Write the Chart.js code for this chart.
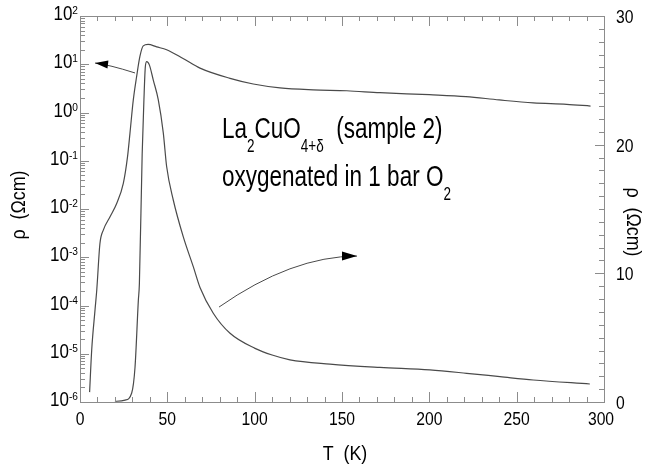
<!DOCTYPE html>
<html>
<head>
<meta charset="utf-8">
<script src="https://cdn.jsdelivr.net/npm/chart.js@4/dist/chart.umd.min.js"></script>
<style>
  html, body { margin: 0; padding: 0; background: #fff; }
  #chart { display: block; }
</style>
</head>
<body>
<canvas id="chart" width="647" height="466"></canvas>
<script>
// --- DATA ---
// curve belonging to the left (log) axis
const logTemps = [5.5, 6.7, 8.6, 9.6, 11.4, 13.4, 17.2, 21, 24.8, 27.2, 28.6, 30.5, 32.4, 34.3, 36.2, 39,
                  43.9, 49.6, 59, 68.7, 85.9, 99.2, 114.5, 133.5, 152.7, 171.7, 200, 221, 240, 259.5, 278.6, 292.3];
const logRho = [1.6e-6, 1.2e-5, 8.1e-5, 2.1e-4, 1.9e-3, 3.7e-3, 6.9e-3, 1.3e-2, 3.4e-2, 0.12, 0.37, 1.8, 5.5, 14.5, 24, 25.7,
                22.9, 20, 13.2, 8.3, 5.1, 3.9, 3.24, 2.95, 2.82, 2.57, 2.34, 2.14, 1.82, 1.58, 1.48, 1.36];

// curve belonging to the right (linear) axis
const linTemps = [20, 25.8, 29.6, 31.5, 33.4, 34.0, 35.6, 36.6, 37.4, 38.2, 39.7, 42, 44.8, 47.7, 49.6,
                  53.4, 59.1, 64.9, 68.7, 76.3, 85.9, 100.2, 110, 120.2, 143.1, 171.7, 200.3, 221.4, 240.4, 259.5, 291.9];
const linRho = [0.05, 0.15, 0.7, 2.7, 7.9, 9.2, 19.3, 23.5, 26.05, 26.45, 26.2, 25.0, 23.5, 20.9, 18.3,
                15.7, 12.85, 10.5, 8.9, 6.9, 5.34, 4.17, 3.65, 3.28, 2.95, 2.69, 2.49, 2.23, 1.97, 1.71, 1.40];

// tick labels
const xTickLabels = [0, 50, 100, 150, 200, 250, 300];
const logTickExponents = [-6, -5, -4, -3, -2, -1, 0, 1, 2];
const linTickLabels = [0, 10, 20, 30];

// --- STYLE ---
const AXIS_COLOR = '#8c8c8c';
const CURVE_COLOR = '#4a4a4a';
const FONT = '"Liberation Sans", Arial, sans-serif';

// --- HELPERS ---
// draws a list of [text, kind] runs, kind = 'n' | 'sub' | 'sup', horizontally squeezed
function richText(ctx, runs, x, y, size, squeeze, align) {
    const small = size * 0.6;
    const fontOf = kind => (kind === 'n' ? size : small) + 'px ' + FONT;
    let total = 0;
    runs.forEach(([txt, kind]) => {
        ctx.font = fontOf(kind);
        total += ctx.measureText(txt).width;
    });
    total *= squeeze;
    let cx = x;
    if (align === 'center') cx = x - total / 2;
    else if (align === 'right') cx = x - total;
    runs.forEach(([txt, kind]) => {
        ctx.save();
        ctx.font = fontOf(kind);
        const dy = kind === 'sub' ? size * 0.47 : kind === 'sup' ? -size * 0.3 : 0;
        ctx.translate(cx, y + dy);
        ctx.scale(squeeze, 1);
        ctx.textAlign = 'left';
        ctx.textBaseline = 'alphabetic';
        ctx.fillText(txt, 0, 0);
        ctx.restore();
        ctx.font = fontOf(kind);
        cx += ctx.measureText(txt).width * squeeze;
    });
}

function curvedArrow(ctx, p0, c, p1, headLen, headHalf) {
    ctx.beginPath();
    ctx.moveTo(p0.x, p0.y);
    ctx.quadraticCurveTo(c.x, c.y, p1.x, p1.y);
    ctx.stroke();
    const ang = Math.atan2(p1.y - c.y, p1.x - c.x);
    ctx.beginPath();
    ctx.moveTo(p1.x, p1.y);
    ctx.lineTo(p1.x - headLen * Math.cos(ang) + headHalf * Math.sin(ang), p1.y - headLen * Math.sin(ang) - headHalf * Math.cos(ang));
    ctx.lineTo(p1.x - headLen * Math.cos(ang) - headHalf * Math.sin(ang), p1.y - headLen * Math.sin(ang) + headHalf * Math.cos(ang));
    ctx.closePath();
    ctx.fill();
}

// --- FRAME, TICKS, LABELS, ANNOTATIONS ---
const decorPlugin = {
    id: 'decor',
    afterDraw(chart) {
        const ctx = chart.ctx;
        const a = chart.chartArea;
        const xs = chart.scales.x, yl = chart.scales.yLog, yr = chart.scales.yLin;

        ctx.save();
        ctx.strokeStyle = AXIS_COLOR;
        ctx.lineWidth = 1;
        ctx.strokeRect(a.left + 0.5, a.top + 0.5, a.right - a.left, a.bottom - a.top);

        ctx.beginPath();
        // x ticks, bottom and top, pointing inward
        for (let t = 0; t <= 300; t += 10) {
            const px = Math.round(xs.getPixelForValue(t)) + 0.5;
            const len = t % 50 === 0 ? 10 : 5;
            ctx.moveTo(px, a.bottom); ctx.lineTo(px, a.bottom - len);
            ctx.moveTo(px, a.top); ctx.lineTo(px, a.top + len);
        }
        // log ticks, left side
        logTickExponents.forEach(e => {
            const py = Math.round(yl.getPixelForValue(Math.pow(10, e))) + 0.5;
            ctx.moveTo(a.left, py); ctx.lineTo(a.left + 9, py);
            if (e < 2) {
                for (let m = 2; m <= 9; m++) {
                    const my = Math.round(yl.getPixelForValue(m * Math.pow(10, e))) + 0.5;
                    ctx.moveTo(a.left, my); ctx.lineTo(a.left + 5, my);
                }
            }
        });
        // linear ticks, right side
        for (let v = 0; v <= 30; v += 1) {
            const py = Math.round(yr.getPixelForValue(v)) + 0.5;
            const len = v % 10 === 0 ? 9 : 5;
            ctx.moveTo(a.right, py); ctx.lineTo(a.right - len, py);
        }
        ctx.stroke();

        // tick labels
        ctx.fillStyle = '#000';
        xTickLabels.forEach(t => {
            richText(ctx, [[String(t), 'n']], xs.getPixelForValue(t) - (t === 300 ? 3 : 0), a.bottom + 23, 18.5, 0.85, 'center');
        });
        logTickExponents.forEach(e => {
            richText(ctx, [['10', 'n'], [String(e), 'sup']], a.left - 2, yl.getPixelForValue(Math.pow(10, e)) + 4, 19.5, 0.87, 'right');
        });
        linTickLabels.forEach(v => {
            richText(ctx, [[String(v), 'n']], a.right + 12, yr.getPixelForValue(v) + 7, 18.5, 0.85, 'left');
        });

        // axis titles
        richText(ctx, [['T  (K)', 'n']], 345, 460, 21, 0.85, 'center');
        ctx.save();
        ctx.translate(25, 205);
        ctx.rotate(-Math.PI / 2);
        richText(ctx, [['\u03c1  (\u03a9cm)', 'n']], 0, 0, 21, 0.85, 'center');
        ctx.restore();
        ctx.save();
        ctx.translate(627, 222);
        ctx.rotate(Math.PI / 2);
        richText(ctx, [['\u03c1  (\u03a9cm)', 'n']], 0, 0, 21, 0.85, 'center');
        ctx.restore();

        // sample annotation
        richText(ctx, [['La', 'n'], ['2', 'sub'], ['CuO', 'n'], ['4+\u03b4', 'sub'], ['  (sample 2)', 'n']],
                 222, 138, 30, 0.75, 'left');
        richText(ctx, [['oxygenated in 1 bar O', 'n'], ['2', 'sub']], 222, 186, 30, 0.75, 'left');

        // arrows pointing each curve at its axis
        ctx.strokeStyle = CURVE_COLOR;
        ctx.fillStyle = '#000';
        ctx.lineWidth = 1;
        const P = (t, v, s) => ({ x: xs.getPixelForValue(t), y: s.getPixelForValue(v) });
        curvedArrow(ctx, P(31.5, 6.6, yl), P(16.6, 9.8, yl), P(8.6, 10.6, yl), 13, 4);
        curvedArrow(ctx, P(79.6, 7.38, yr), P(121.3, 11.34, yr), P(158.6, 11.34, yr), 15, 4.5);
        ctx.restore();
    }
};

// --- CHART ---
const toPoints = (xsArr, ysArr) => xsArr.map((x, i) => ({ x: x, y: ysArr[i] }));

new Chart(document.getElementById('chart'), {
    type: 'line',
    data: {
        datasets: [
            {
                label: 'rho (log)',
                data: toPoints(logTemps, logRho),
                yAxisID: 'yLog',
                borderColor: CURVE_COLOR,
                borderWidth: 1.2,
                pointRadius: 0,
                cubicInterpolationMode: 'monotone',
                fill: false
            },
            {
                label: 'rho (linear)',
                data: toPoints(linTemps, linRho),
                yAxisID: 'yLin',
                borderColor: CURVE_COLOR,
                borderWidth: 1.2,
                pointRadius: 0,
                cubicInterpolationMode: 'monotone',
                fill: false
            }
        ]
    },
    options: {
        responsive: false,
        animation: false,
        layout: { padding: { left: 80, top: 16, right: 43, bottom: 64 } },
        plugins: { legend: { display: false }, tooltip: { enabled: false } },
        scales: {
            x: { type: 'linear', min: 0, max: 300, display: false },
            yLog: { type: 'logarithmic', position: 'left', min: 1e-6, max: 100, display: false },
            yLin: { type: 'linear', position: 'right', min: 0, max: 30, display: false }
        }
    },
    plugins: [decorPlugin]
});
</script>
</body>
</html>
